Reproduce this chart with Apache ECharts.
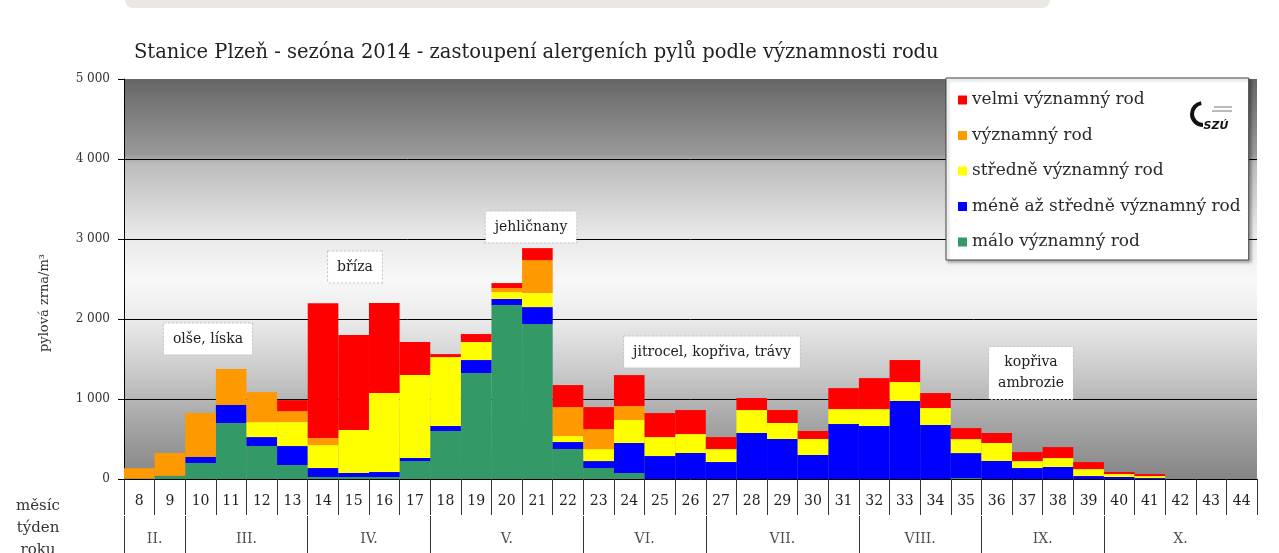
<!DOCTYPE html>
<html>
<head>
<meta charset="utf-8">
<script src="https://cdn.jsdelivr.net/npm/echarts@6.0.0/dist/echarts.min.js"></script>
<style>html,body{margin:0;padding:0;background:#fff}#c{width:1279px;height:553px}</style>
</head>
<body>
<div id="c"></div>
<script>
var weeks = ['8','9','10','11','12','13','14','15','16','17','18','19','20','21','22','23','24','25','26','27','28','29','30','31','32','33','34','35','36','37','38','39','40','41','42','43','44'];
var maloVyznamny   = [5,40,200,700,412,175,25,25,25,225,600,1325,2175,1937,375,137,75,0,0,0,0,0,0,0,0,0,0,12,0,0,0,0,0,0,0,0,0];
var meneAzStredne  = [0,0,75,225,112,237,112,50,62,37,62,162,75,212,87,87,375,287,325,212,575,500,300,687,662,975,675,312,225,137,150,37,25,12,0,0,0];
var stredneVyzn    = [0,0,0,0,187,300,287,537,987,1037,862,225,87,175,75,150,287,237,237,162,287,200,200,187,212,237,212,175,225,87,112,87,37,25,0,0,0];
var vyznamny       = [130,285,550,450,375,137,87,0,0,0,0,0,50,412,362,250,175,0,0,0,0,0,0,0,0,0,0,0,0,0,0,0,0,0,0,0,0];
var velmiVyznamny  = [0,0,0,0,0,137,1687,1187,1125,412,37,100,62,150,275,275,387,300,300,150,150,162,100,262,387,275,187,137,125,112,137,87,25,25,0,0,0];
var months = ['II.','III.','IV.','V.','VI.','VII.','VIII.','IX.','X.'];
var monthFirstWeek = [8,10,14,18,23,27,32,36,40];
var monthLastWeek  = [9,13,17,22,26,31,35,39,44];
var yTicks = [0,1000,2000,3000,4000,5000];

var FONT = 'DejaVu Serif';
var firstWeek = Number(weeks[0]);
var monthCenters = months.map(function(m,i){
  return {name: m, value: [((monthFirstWeek[i]-firstWeek) + (monthLastWeek[i]-firstWeek+1))/2, 0.5]};
});
var monthBounds = monthFirstWeek.map(function(w){ return {xAxis: w-firstWeek}; });

var chart = echarts.init(document.getElementById('c'));
var names = ['velmi významný rod','významný rod','středně významný rod','méně až středně významný rod','málo významný rod'];
var colors = {'velmi významný rod':'#ff0000','významný rod':'#ff9900','středně významný rod':'#ffff00','méně až středně významný rod':'#0000ff','málo významný rod':'#339966'};
function barSeries(name, data){
  return {name:name, type:'bar', stack:'all', data:data, barCategoryGap:0, barGap:0,
    itemStyle:{color:colors[name]}, emphasis:{disabled:true}, xAxisIndex:0, yAxisIndex:0};
}
function fmt(v){ return String(v).replace(/\B(?=(\d{3})+(?!\d))/g,' '); }
var annStyle = {fill:'#222', font:'14px "DejaVu Serif"', backgroundColor:'#fff', borderColor:'#c4c4c4', borderWidth:1, borderDash:[2,2], padding:[5,9], align:'center', verticalAlign:'middle', lineHeight:21};
function ann(text,x,y){ return {type:'text', x:x, y:y, z:50, style:Object.assign({text:text}, annStyle)}; }

chart.setOption({
  animation:false,
  title:{text:'Stanice Plzeň - sezóna 2014 - zastoupení alergeních pylů podle významnosti rodu', left:129, top:38,
    textStyle:{fontFamily:FONT, fontSize:19.5, fontWeight:'normal', color:'#222'}},
  legend:{data:names, orient:'vertical', left:946, top:78, padding:[12,8,8,12], itemGap:15.5,
    itemWidth:9, itemHeight:9, icon:'rect', backgroundColor:'#fff', borderColor:'#444', borderWidth:1,
    shadowColor:'rgba(0,0,0,0.3)', shadowBlur:3, shadowOffsetX:2, shadowOffsetY:2,
    textStyle:{fontFamily:FONT, fontSize:17, color:'#2a2a2a', lineHeight:20}, selectedMode:false, z:20},
  grid:[
    {left:124, right:22, top:79, height:400, show:true, borderWidth:0,
      backgroundColor:{type:'linear',x:0,y:0,x2:0,y2:1,colorStops:[
        {offset:0,color:'#666666'},{offset:0.19,color:'#9a9a9a'},{offset:0.21,color:'#bbbbbb'},
        {offset:0.38,color:'#e6e6e6'},{offset:0.5,color:'#f8f8f8'},{offset:0.6,color:'#ebebeb'},
        {offset:0.72,color:'#cdcdcd'},{offset:0.85,color:'#a8a8a8'},{offset:1,color:'#858585'}]}},
    {left:124, right:22, top:516, height:37, show:false}
  ],
  xAxis:[
    {type:'category', data:weeks, gridIndex:0, boundaryGap:true,
      axisLine:{lineStyle:{color:'#000', width:1}},
      axisTick:{show:true, interval:0, length:36, lineStyle:{color:'#333'}},
      axisLabel:{interval:0, margin:15, fontFamily:FONT, fontSize:14, color:'#222'}},
    {type:'value', gridIndex:1, min:0, max:weeks.length, show:false}
  ],
  yAxis:[
    {type:'value', gridIndex:0, min:yTicks[0], max:yTicks[yTicks.length-1], interval:1000,
      axisLine:{show:true, lineStyle:{color:'#000'}},
      axisTick:{show:true, length:6, lineStyle:{color:'#000'}},
      splitLine:{show:true, lineStyle:{color:['rgba(0,0,0,0)','#000','#000','#000','#000','rgba(0,0,0,0)'], width:1}},
      axisLabel:{margin:14, fontFamily:FONT, fontSize:12, color:'#333', formatter:fmt}},
    {type:'value', gridIndex:1, min:0, max:1, show:false}
  ],
  graphic:[
    {type:'rect', shape:{x:125, y:-12, width:925, height:20, r:8}, style:{fill:'#ebe7e3'}},
    {type:'text', x:45, y:303, rotation:Math.PI/2, style:{text:'pylová zrna/m³', fill:'#333', font:'13px "DejaVu Serif"', align:'center', verticalAlign:'middle'}},
    {type:'text', x:38, y:506, style:{text:'měsíc', fill:'#333', font:'15px "DejaVu Serif"', align:'center', verticalAlign:'middle'}},
    {type:'text', x:38, y:528, style:{text:'týden', fill:'#333', font:'15px "DejaVu Serif"', align:'center', verticalAlign:'middle'}},
    {type:'text', x:38, y:550, style:{text:'roku', fill:'#333', font:'15px "DejaVu Serif"', align:'center', verticalAlign:'middle'}},
    {type:'arc', z:30, shape:{cx:1203, cy:114, r:11, startAngle:Math.PI*0.5, endAngle:Math.PI*1.45, clockwise:true},
      style:{stroke:'#111', lineWidth:4, fill:null}},
    {type:'line', z:30, shape:{x1:1214, y1:107, x2:1232, y2:107}, style:{stroke:'#777', lineWidth:1}},
    {type:'line', z:30, shape:{x1:1212, y1:111, x2:1232, y2:111}, style:{stroke:'#777', lineWidth:1}},
    {type:'text', x:1216, y:126, z:30, style:{text:'SZÚ', fill:'#111', font:'italic bold 11px "DejaVu Sans"', align:'center', verticalAlign:'middle'}},
    ann('olše, líska',208,339),
    ann('bříza',355,267),
    ann('jehličnany',531,227),
    ann('jitrocel, kopřiva, trávy',712,352),
    ann('kopřiva\nambrozie',1031,373)
  ],
  series:[
    barSeries('málo významný rod', maloVyznamny),
    barSeries('méně až středně významný rod', meneAzStredne),
    barSeries('středně významný rod', stredneVyzn),
    barSeries('významný rod', vyznamny),
    barSeries('velmi významný rod', velmiVyznamny),
    {type:'scatter', xAxisIndex:1, yAxisIndex:1, data:monthCenters, symbolSize:0, silent:true,
      label:{show:true, position:'inside', offset:[0,5], formatter:'{b}', fontFamily:FONT, fontSize:14, color:'#222'},
      markLine:{silent:true, symbol:'none', label:{show:false}, lineStyle:{color:'#333', type:'solid', width:1},
        data:monthBounds}}
  ]
});
</script>
</body>
</html>
